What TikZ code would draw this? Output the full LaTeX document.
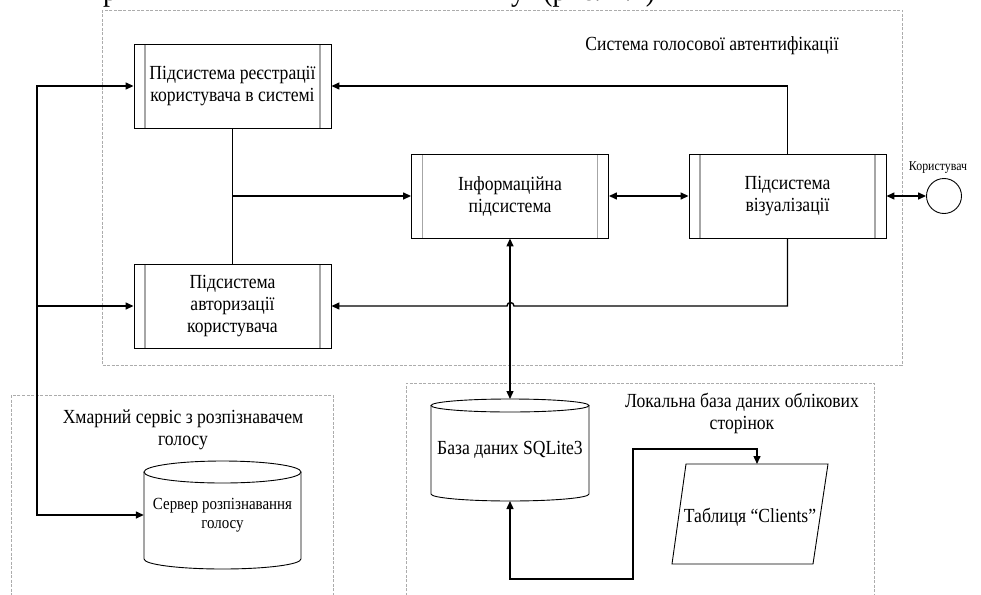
\documentclass[tikz,border=0pt]{standalone}
\usepackage{fontspec}
\setmainfont{Liberation Serif}[FakeStretch=0.88]
\usetikzlibrary{arrows.meta}

\begin{document}
\begin{tikzpicture}[x=1pt,y=-1pt,
  conn/.style={line width=1.4pt, black},
  arrowend/.style={-{Triangle[length=8pt,width=7pt]}},
  twoway/.style={{Triangle[length=8pt,width=7pt]}-{Triangle[length=8pt,width=7pt]}},
  frame/.style={draw=gray!65, line width=0.8pt, dash pattern=on 3pt off 1.5pt},
  txt/.style={font=\fontsize{20}{22}\selectfont, align=center, inner sep=0pt},
  smalltxt/.style={font=\fontsize{17}{19}\selectfont, align=center, inner sep=0pt},
  subsys/.style={draw=black, line width=0.9pt, minimum width=197pt, minimum height=84pt,
    inner sep=0pt, align=center, font=\fontsize{20}{22}\selectfont,
    path picture={\draw[gray!70, line width=1.3pt]
      ([xshift=11pt]path picture bounding box.south west) -- ([xshift=11pt]path picture bounding box.north west)
      ([xshift=-11pt]path picture bounding box.south east) -- ([xshift=-11pt]path picture bounding box.north east);}},
  shapeline/.style={draw=black, line width=0.9pt}
]
\useasboundingbox (0,0) rectangle (981,594);

% running text of the page above the figure
\node[anchor=base west, font=\fontsize{32}{34}\selectfont, inner sep=0pt] (hdrA) at (103,0.5) {р};
\node[anchor=base west, font=\fontsize{32}{34}\selectfont, inner sep=0pt] (hdrB) at (511,0.5) {у};
\node[anchor=base west, font=\fontsize{32}{34}\selectfont, inner sep=0pt] (hdrC) at (543,0.5) {(рис. 2.1)};

% group frames
\draw[frame] (102,10) rectangle (902,365);
\draw[frame] (11,395) -- (11,600) (333,600) -- (333,395) -- (11,395);
\draw[frame] (406,600) -- (406,383) -- (874,383) -- (874,600);

\node[txt] (lblA) at (712,46) {Система голосової автентифікації};
\node[txt] (lblB) at (183,430) {Хмарний сервіс з розпізнавачем\\голосу};
\node[txt] (lblC) at (742,413) {Локальна база даних облікових\\сторінок};

% subsystems
\node[subsys] (reg) at (232.5,86) {Підсистема реєстрації\\користувача в системі};
\node[subsys] (auth) at (232.5,306) {Підсистема\\авторизації\\користувача};
\node[subsys] (info) at (510,196) {Інформаційна\\підсистема};
\node[subsys] (vis) at (787.5,196) {Підсистема\\візуалізації};

% user
\node[draw=black, line width=0.9pt, circle, minimum size=35pt, inner sep=0pt] (user) at (944,196) {};
\node[font=\fontsize{13.5}{15}\selectfont, inner sep=0pt] (userlbl) at (938,168) {Користувач};

% recognition server (cylinder)
\node[smalltxt, minimum width=157pt, minimum height=108pt] (srv) at (222.5,515) {Сервер розпізнавання\\голосу};
\draw[shapeline] (144,472) -- (144,559) arc[start angle=180, end angle=0, x radius=78.5, y radius=10] -- (301,472);
\draw[shapeline] (222.5,472) ellipse [x radius=78.5, y radius=11];

% SQLite database (cylinder)
\node[txt, minimum width=158pt, minimum height=102pt] (db) at (510,450) {База даних SQLite3};
\draw[shapeline] (431,405.5) -- (431,494) arc[start angle=180, end angle=0, x radius=79, y radius=7] -- (589,405.5);
\draw[shapeline] (510,405.5) ellipse [x radius=79, y radius=6.5];

% Clients table (parallelogram)
\draw[shapeline] (686,464) -- (828,464) -- (813,564) -- (672,564) -- cycle;
\node[txt] (tbl) at (750,517) {Таблиця “Clients”};
\coordinate (tbltop) at (757,464);

% connectors
\coordinate (b1) at (37,86);
\coordinate (b2) at (37,306);
\coordinate (b3) at (37,515);
\draw[conn,arrowend] (b2) -- (b1) -- (reg.west);
\draw[conn,arrowend] (b2) -- (b3) -- (srv.west);
\draw[conn,arrowend] (b2) -- (auth.west);

\coordinate (mid) at (232.5,196);
\draw[conn] (reg.south) -- (auth.north);
\draw[conn,arrowend] (mid) -- (info.west);

\draw[conn,arrowend] (vis.north) |- (reg.east);
\draw[conn,arrowend] (vis.south) -- (787.5,306) -- (514,306)
  arc[start angle=0, end angle=-180, radius=3.5] -- (auth.east);

\draw[conn,twoway] (info.east) -- (vis.west);
\draw[conn,twoway] (vis.east) -- (user.west);
\draw[conn,twoway] (info.south) -- (510,399);
\draw[conn,twoway] (510,501) -- (510,579) -- (633,579) -- (633,449) -- (757,449) -- (tbltop);
\end{tikzpicture}
\end{document}
